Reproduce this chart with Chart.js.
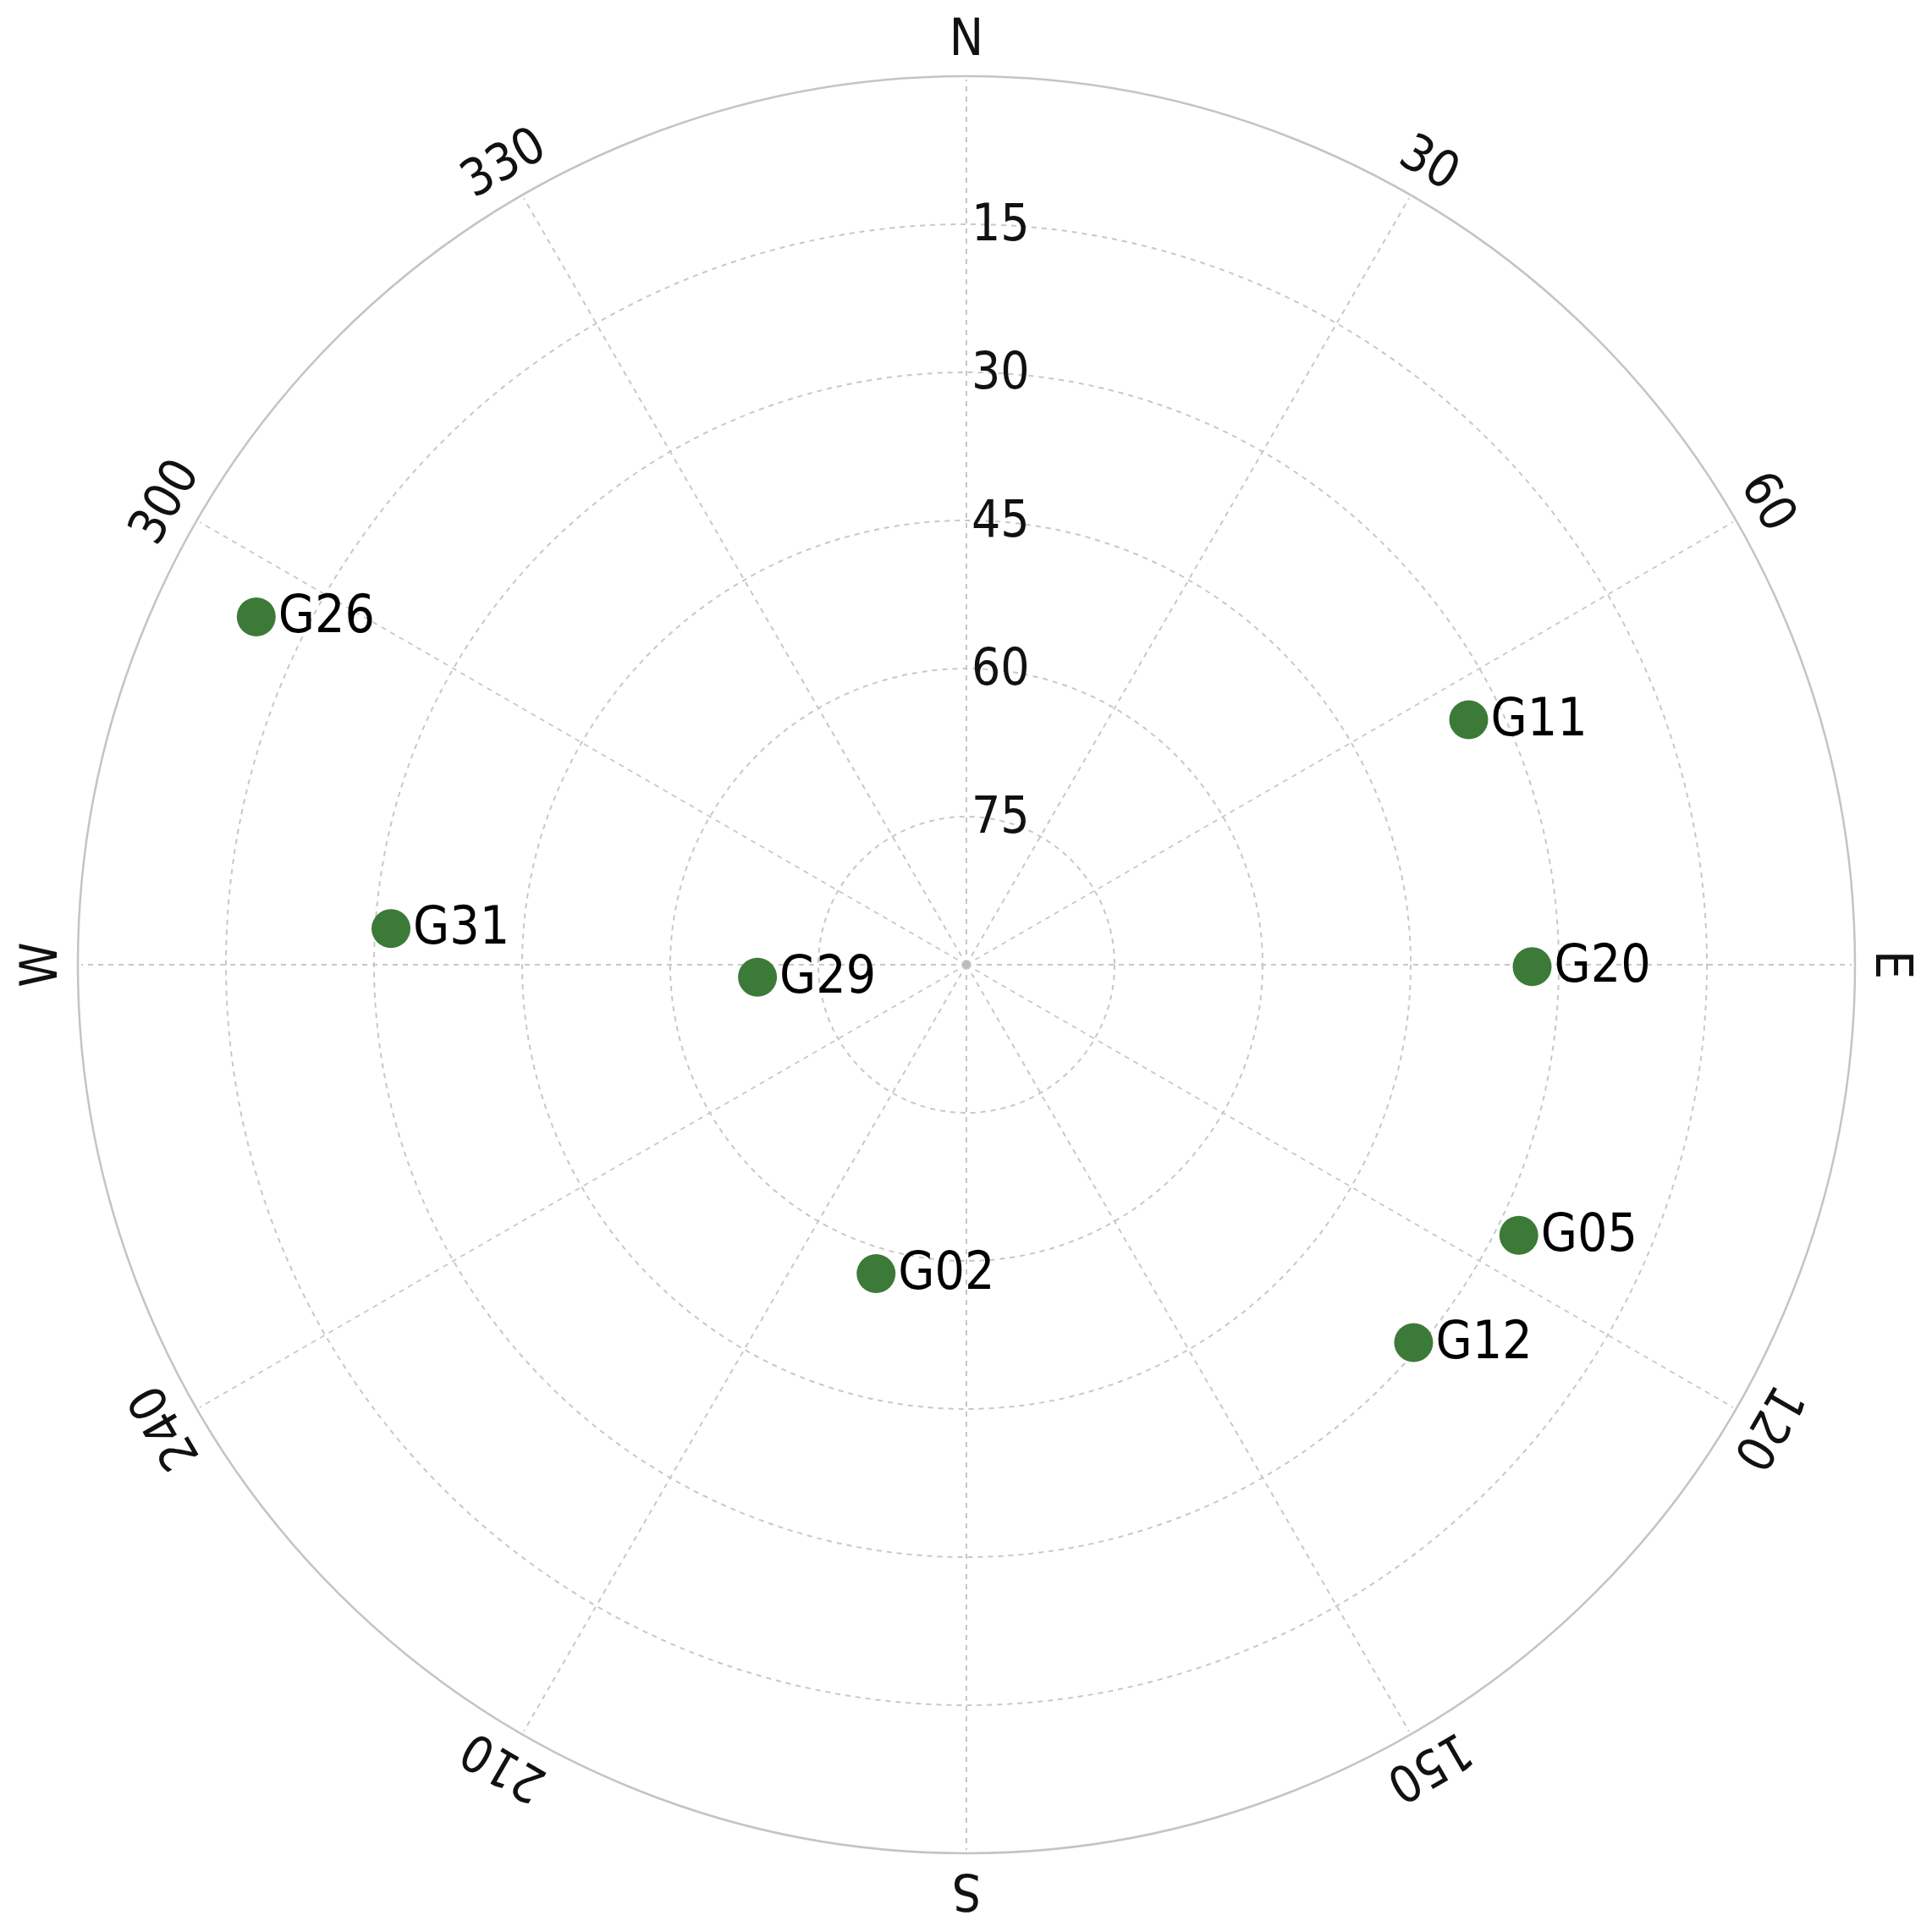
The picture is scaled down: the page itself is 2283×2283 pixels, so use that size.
<!DOCTYPE html>
<html>
<head>
<meta charset="utf-8">
<script src="https://cdn.jsdelivr.net/npm/chart.js@4"></script>
<style>
  html, body { margin: 0; padding: 0; background: #ffffff; }
  #wrap { width: 2283px; height: 2283px; }
</style>
</head>
<body>
<div id="wrap"><canvas id="c" width="2283" height="2283"></canvas></div>
<script>
const satIds     = ['G26', 'G31', 'G29', 'G02', 'G11', 'G20', 'G05', 'G12'];
const azimuths   = [296.1, 273.6, 266.6, 196.3, 64.0, 90.2, 116.1, 130.2];   // degrees from north, clockwise
const elevations = [9.9, 31.6, 68.8, 57.4, 33.4, 32.7, 27.7, 30.7];           // degrees
const ringElevations = [15, 30, 45, 60, 75];
const ringLabels     = ['15', '30', '45', '60', '75'];
const azimuthTicks   = [0, 30, 60, 90, 120, 150, 180, 210, 240, 270, 300, 330];
const azimuthLabels  = ['N', '30', '60', 'E', '120', '150', 'S', '210', '240', 'W', '300', '330'];

const FONT = "'DejaVu Sans Condensed', 'DejaVu Sans', sans-serif";
const toRad = d => d * Math.PI / 180;

// polar (az, el) -> cartesian in zenith-distance units, plotted through the linear scales
const points = satIds.map((id, i) => {
  const zd = 90 - elevations[i];
  return { x: zd * Math.sin(toRad(azimuths[i])), y: zd * Math.cos(toRad(azimuths[i])), id: id };
});

const skyGrid = {
  id: 'skyGrid',
  beforeDatasetsDraw(chart) {
    const ctx = chart.ctx;
    const xs = chart.scales.x, ys = chart.scales.y;
    const cx = xs.getPixelForValue(0), cy = ys.getPixelForValue(0);
    const rad = el => xs.getPixelForValue(90 - el) - cx;
    const R = rad(0);
    ctx.save();
    // dashed elevation rings
    ctx.strokeStyle = '#c8c8c8';
    ctx.lineWidth = 2;
    ctx.setLineDash([6, 6]);
    ringElevations.forEach(el => {
      ctx.beginPath();
      ctx.arc(cx, cy, rad(el), 0, Math.PI * 2);
      ctx.stroke();
    });
    // dashed azimuth spokes
    azimuthTicks.forEach(az => {
      const a = toRad(az);
      ctx.beginPath();
      ctx.moveTo(cx, cy);
      ctx.lineTo(cx + (R - 4) * Math.sin(a), cy - (R - 4) * Math.cos(a));
      ctx.stroke();
    });
    // solid horizon circle
    ctx.setLineDash([]);
    ctx.strokeStyle = '#c4c4c4';
    ctx.lineWidth = 2.5;
    ctx.beginPath();
    ctx.arc(cx, cy, R, 0, Math.PI * 2);
    ctx.stroke();
    // center dot
    ctx.fillStyle = '#bdbdbd';
    ctx.beginPath();
    ctx.arc(cx, cy, 5, 0, Math.PI * 2);
    ctx.fill();
    // elevation labels
    ctx.fillStyle = '#111111';
    ctx.font = '60px ' + FONT;
    ctx.textAlign = 'left';
    ctx.textBaseline = 'middle';
    ringElevations.forEach((el, i) => {
      ctx.fillText(ringLabels[i], cx + 6, cy - rad(el) + 3);
    });
    // azimuth labels, rotated tangentially
    ctx.textAlign = 'center';
    azimuthTicks.forEach((az, i) => {
      const a = toRad(az);
      const d = R + 41;
      ctx.save();
      ctx.translate(cx + d * Math.sin(a), cy - d * Math.cos(a));
      ctx.rotate(a);
      ctx.fillText(azimuthLabels[i], 0, 0);
      ctx.restore();
    });
    ctx.restore();
  },
  afterDatasetsDraw(chart) {
    const ctx = chart.ctx;
    const meta = chart.getDatasetMeta(0);
    ctx.save();
    ctx.fillStyle = '#000000';
    ctx.font = '62px ' + FONT;
    ctx.textAlign = 'left';
    ctx.textBaseline = 'middle';
    meta.data.forEach((pt, i) => {
      const r = pt.options.radius;
      ctx.fillText(satIds[i], pt.x + r + 3, pt.y + 2);
    });
    ctx.restore();
  }
};

new Chart(document.getElementById('c'), {
  type: 'scatter',
  data: {
    datasets: [{
      data: points,
      pointRadius: 23,
      pointHoverRadius: 23,
      pointBackgroundColor: '#3c7a38',
      pointBorderWidth: 0,
      borderWidth: 0,
      clip: false
    }]
  },
  options: {
    responsive: false,
    animation: false,
    devicePixelRatio: 1,
    layout: { padding: { left: 92, right: 91, top: 90, bottom: 93 } },
    plugins: { legend: { display: false }, tooltip: { enabled: false } },
    events: [],
    scales: {
      x: { type: 'linear', min: -90, max: 90, display: false },
      y: { type: 'linear', min: -90, max: 90, display: false }
    }
  },
  plugins: [skyGrid]
});
</script>
</body>
</html>
